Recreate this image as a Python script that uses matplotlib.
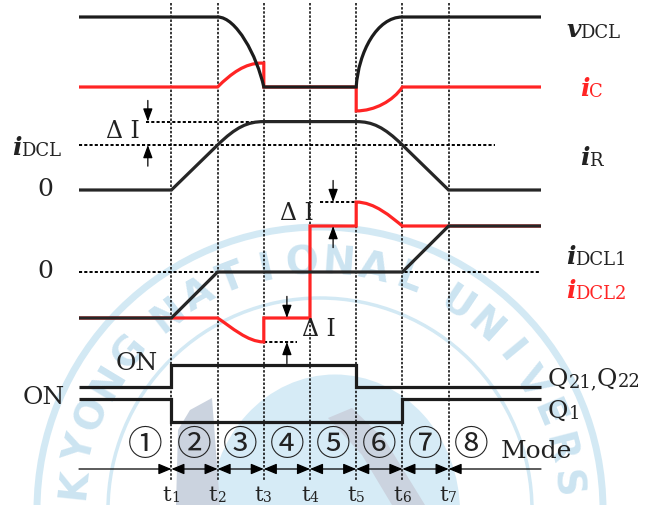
import numpy as np
import matplotlib.pyplot as plt
from matplotlib.path import Path
from matplotlib.patches import PathPatch, Circle, Ellipse, Polygon
from matplotlib.transforms import Affine2D

# switching instants t1..t7 and end of the drawn period (time units)
t_sw = [2, 3, 4, 5, 6, 7, 8]
t_end = 10
t1, t2, t3, t4, t5, t6, t7 = t_sw
dI = 0.52          # current step ΔI relative to iDCL
i_dcl = 1.0

# waveforms: tuples are line-to points, lists of three points are cubic segments
v_dcl = [(0, 1), (t2, 1), [(t2 + 0.4, 1), (t2 + 0.85, 0.45), (t3, 0)], (t5, 0),
         [(t5 + 0.05, 0.5), (t5 + 0.45, 1), (t6, 1)], (t_end, 1)]
i_c = [(0, 0), (t2, 0), [(t2 + 0.3, 0.3), (t2 + 0.6, dI), (t3 - 0.05, dI)], (t3, dI),
       (t3, 0), (t5, 0), (t5, -dI), [(t5 + 0.4, -dI), (t5 + 0.8, -0.3), (t6, 0)], (t_end, 0)]
i_r = [(0, 0), (t1, 0), (t2, i_dcl),
       [(t2 + 0.4, i_dcl + 0.4), (t2 + 0.65, i_dcl + dI), (t3, i_dcl + dI)],
       (t5, i_dcl + dI), [(t5 + 0.35, i_dcl + dI), (t5 + 0.6, i_dcl + 0.4), (t6, i_dcl)],
       (t7, 0), (t_end, 0)]
i_dcl1 = [(0, -i_dcl), (t1, -i_dcl), (t2, 0), (t6, 0), (t7, i_dcl), (t_end, i_dcl)]
i_dcl2 = [(0, -i_dcl), (t2, -i_dcl),
          [(t2 + 0.3, -i_dcl - 0.2), (t2 + 0.65, -i_dcl - dI), (t3, -i_dcl - dI)],
          (t3, -i_dcl), (t4, -i_dcl), (t4, i_dcl), (t5, i_dcl), (t5, i_dcl + dI),
          [(t5 + 0.4, i_dcl + dI), (t5 + 0.75, i_dcl + 0.2), (t6, i_dcl)], (t_end, i_dcl)]
q21 = [(0, 0), (t1, 0), (t1, 1), (t5, 1), (t5, 0), (t_end, 0)]
q1 = [(0, 1), (t1, 1), (t1, 0), (t6, 0), (t6, 1), (t_end, 1)]

modes = ['①', '②', '③', '④', '⑤', '⑥', '⑦', '⑧']
mode_x = [1.43, 2.5, 3.5, 4.5, 5.5, 6.5, 7.5, 8.5]
t_labels = ['1', '2', '3', '4', '5', '6', '7']

RED = '#ff2424'
BLK = '#1c1c1c'
WM = '#d3e9f4'
GRAY = '#cbd3df'

W, H = 648, 505
X0, DX = 79, 46.2      # pixel of t=0 and pixels per time unit

fig = plt.figure(figsize=(W / 100, H / 100), dpi=100)
ax_bg = fig.add_axes([0, 0, 1, 1], zorder=0)
ax_bg.set_xlim(0, W)
ax_bg.set_ylim(H, 0)
ax_bg.axis('off')
ax = fig.add_axes([0, 0, 1, 1], zorder=1)
ax.patch.set_alpha(0)
ax.set_xlim(-X0 / DX, (W - X0) / DX)
ax.set_ylim(H, 0)
ax.axis('off')
px = ax_bg.transData

# faint university seal in the background
cx, cy = 320, 510
ax_bg.add_patch(Ellipse((335, 512), 250, 275, fc='#d6ebf6', ec='none', zorder=0))
ax_bg.add_patch(Polygon([(176, 505), (178, 430), (190, 410), (212, 398), (220, 505)],
                        fc=GRAY, ec='none', zorder=0))
ax_bg.add_patch(Polygon([(328, 418), (352, 408), (385, 440), (425, 505), (392, 505),
                         (362, 455)], fc=GRAY, ec='none', zorder=0))
ax_bg.add_patch(Circle((cx, cy), 283, fill=False, lw=5, ec=WM, zorder=0))
ax_bg.add_patch(Circle((cx, cy), 212, fill=False, lw=2.5, ec=WM, zorder=0))
seal = 'KYONG NATIONAL UNIVERS'
ang = 174
for ch in seal:
    if ch == ' ':
        ang -= 4.2
        continue
    a = np.radians(ang)
    ax_bg.text(cx + 247 * np.cos(a), cy - 247 * np.sin(a), ch, rotation=ang - 90,
               rotation_mode='anchor', ha='center', va='center', fontsize=28,
               fontweight='bold', color='#cce4f1', family='DejaVu Sans', zorder=1)
    ang -= 8.4

# rows: (pixel of zero level, pixels per unit)
rows = {'v': (87, 70), 'ic': (87, 46), 'ir': (190, 45), 'idcl': (272, 46),
        'q21': (387, 22), 'q1': (422, 23)}


def row_tf(name):
    base, gain = rows[name]
    return Affine2D().scale(1, -gain).translate(0, base) + ax.transData


def make_path(nodes):
    verts, codes = [], []
    for n in nodes:
        if isinstance(n, list):
            verts += n
            codes += [Path.CURVE4] * 3
        else:
            codes.append(Path.LINETO if verts else Path.MOVETO)
            verts.append(n)
    return Path(verts, codes)


def trace(nodes, row, color, lw=2.3, z=3):
    ax.add_patch(PathPatch(make_path(nodes), fill=False, ec=color, lw=lw,
                           transform=row_tf(row), joinstyle='miter',
                           capstyle='butt', zorder=z))


dot = (0, (1.6, 1.1))

# mode boundaries
ax.vlines(t_sw, 3, 480, colors='k', lw=1.1, linestyles=[dot], zorder=2)

# reference levels
tf = row_tf('ir')
ax.plot([0, 9.0], [i_dcl, i_dcl], color='k', lw=1.4, ls=dot, transform=tf, zorder=2)
ax.plot([1.45, t3], [i_dcl + dI] * 2, color='k', lw=1.4, ls=dot, transform=tf, zorder=2)
tf = row_tf('idcl')
ax.plot([0, t_end], [0, 0], color='k', lw=1.4, ls=dot, transform=tf, zorder=2)
ax.plot([5.22, t5], [i_dcl + dI] * 2, color='k', lw=1.4, ls=dot, transform=tf, zorder=2)
ax.plot([t3, 4.72], [-i_dcl - dI] * 2, color='k', lw=1.4, ls=dot, transform=tf, zorder=2)

trace(i_c, 'ic', RED)
trace(v_dcl, 'v', BLK, z=4)
trace(i_r, 'ir', '#262626')
trace(i_dcl2, 'idcl', RED)
trace(i_dcl1, 'idcl', '#262626', z=4)
trace(q21, 'q21', BLK)
trace(q1, 'q1', BLK)

# ΔI markers
head = dict(arrowstyle='-|>,head_length=0.6,head_width=0.22', color='k', lw=0.9,
            shrinkA=0, shrinkB=0, mutation_scale=13)
for row, x, lo, hi in [('ir', 1.49, i_dcl, i_dcl + dI),
                       ('idcl', 5.5, i_dcl, i_dcl + dI),
                       ('idcl', 4.5, -i_dcl - dI, -i_dcl)]:
    tf = row_tf(row)
    ax.annotate('', xy=(x, hi), xytext=(x, hi + 0.47), xycoords=tf, textcoords=tf,
                arrowprops=head, zorder=5)
    ax.annotate('', xy=(x, lo), xytext=(x, lo - 0.47), xycoords=tf, textcoords=tf,
                arrowprops=head, zorder=5)

serif = dict(family='DejaVu Serif', color='#222222')
for x, y in [(123, 131), (297, 213), (319, 330)]:
    ax.text(x, y, 'Δ I', transform=px, fontsize=17, ha='center', va='center', zorder=6, **serif)

for y in [190, 272]:
    ax.text(45, y, '0', transform=px, fontsize=18, ha='center', va='center', **serif)
ax.text(137, 364, 'ON', transform=px, fontsize=18, ha='center', va='center', **serif)
ax.text(44, 397, 'ON', transform=px, fontsize=18, ha='center', va='center', **serif)


def sub_label(x, y, main, sub, color='#222222', size=18, sub_size=13, bold_it=True):
    kw = dict(family='DejaVu Serif', color=color)
    if bold_it:
        kw.update(fontweight='bold', fontstyle='italic')
    m = ax.text(x, y, main, transform=px, fontsize=size, ha='left', va='baseline', **kw)
    ax.annotate(sub, xy=(1, 0), xycoords=m, ha='left', va='bottom', fontsize=sub_size,
                family='DejaVu Serif', color=color)


sub_label(566, 37, 'v', 'DCL')
sub_label(580, 96, 'i', 'C', color=RED)
sub_label(580, 165, 'i', 'R')
sub_label(12, 155, 'i', 'DCL')
sub_label(566, 264, 'i', 'DCL1')
sub_label(566, 298, 'i', 'DCL2', color=RED)
m = ax.text(548, 386, 'Q', transform=px, fontsize=18, ha='left', va='baseline', **serif)
a = ax.annotate('21,', xy=(1, 0), xycoords=m, ha='left', va='bottom', fontsize=13, **serif)
b = ax.annotate('Q', xy=(1, 0), xycoords=a, ha='left', va='bottom', fontsize=18, **serif)
ax.annotate('22', xy=(1, 0), xycoords=b, ha='left', va='bottom', fontsize=13, **serif)
sub_label(548, 418, 'Q', '1', bold_it=False)

# mode numbers and interval arrows
for lab, x in zip(modes, mode_x):
    ax.text(x, 445, lab, fontsize=25, ha='center', va='center', color='#222222',
            family=['Noto Sans CJK JP', 'DejaVu Sans'])
ax.text(536, 452, 'Mode', transform=px, fontsize=18, ha='center', va='center', **serif)

arr = dict(color='k', lw=0.9, shrinkA=0, shrinkB=0, mutation_scale=13)
one = dict(arrowstyle='-|>,head_length=0.6,head_width=0.25', **arr)
two = dict(arrowstyle='<|-|>,head_length=0.6,head_width=0.25', **arr)
ax.annotate('', xy=(t1, 469), xytext=(0, 469), arrowprops=one)
for a0, a1 in zip(t_sw[:-1], t_sw[1:]):
    ax.annotate('', xy=(a1, 469), xytext=(a0, 469), arrowprops=two)
ax.annotate('', xy=(t7, 469), xytext=(t_end, 469), arrowprops=one)

for x, lab in zip(t_sw, t_labels):
    xp = X0 + DX * x
    m = ax.text(xp - 9, 501, 't', transform=px, fontsize=15, ha='left', va='baseline', **serif)
    ax.annotate(lab, xy=(1, 0), xycoords=m, ha='left', va='bottom', fontsize=10, **serif)

fig.savefig('out.png', dpi=100)
